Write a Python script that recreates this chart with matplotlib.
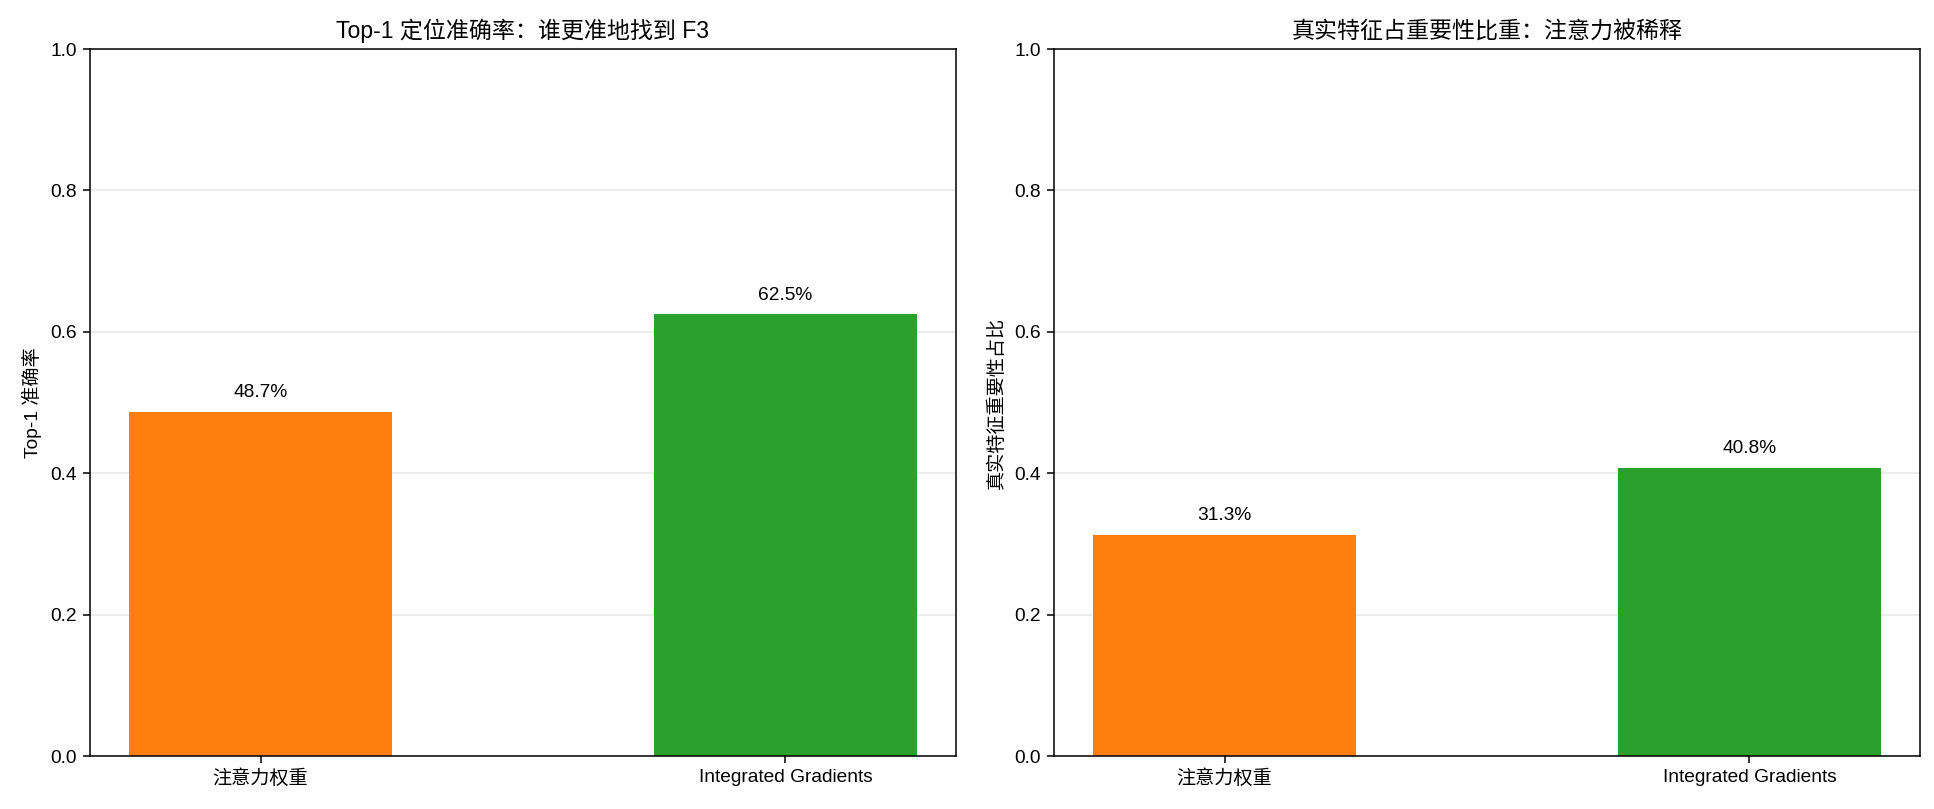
import numpy as np
import matplotlib
matplotlib.use("Agg")
import matplotlib.pyplot as plt

plt.rcParams['font.family'] = ['Liberation Sans', 'Noto Sans CJK SC', 'DejaVu Sans']
plt.rcParams['axes.unicode_minus'] = False

methods = ["注意力权重", "Integrated Gradients"]
top1_acc = [0.487, 0.625]
true_share = [0.313, 0.408]
colors = ["#ff7f0e", "#2ca02c"]

fig, axes = plt.subplots(1, 2, figsize=(1934 / 138, 809 / 138), dpi=138)

panels = [
    (axes[0], top1_acc, "Top-1 定位准确率：谁更准地找到 F3", "Top-1 准确率"),
    (axes[1], true_share, "真实特征占重要性比重：注意力被稀释", "真实特征重要性占比"),
]

for ax, vals, title, ylabel in panels:
    x = np.arange(len(methods))
    ax.bar(x, vals, width=0.5, color=colors)
    for xi, v in zip(x, vals):
        ax.text(xi, v + 0.015, f"{v * 100:.1f}%", ha="center", va="bottom", fontsize=10)
    ax.set_xticks(x)
    ax.set_xticklabels(methods)
    ax.set_ylim(0, 1.0)
    ax.set_title(title, fontsize=12)
    ax.set_ylabel(ylabel)
    ax.grid(axis="y", alpha=0.3)
    ax.set_axisbelow(True)

plt.subplots_adjust(left=0.0465, right=0.9928, top=0.9394, bottom=0.0655, wspace=0.113)
plt.savefig("out.png", dpi=138)
